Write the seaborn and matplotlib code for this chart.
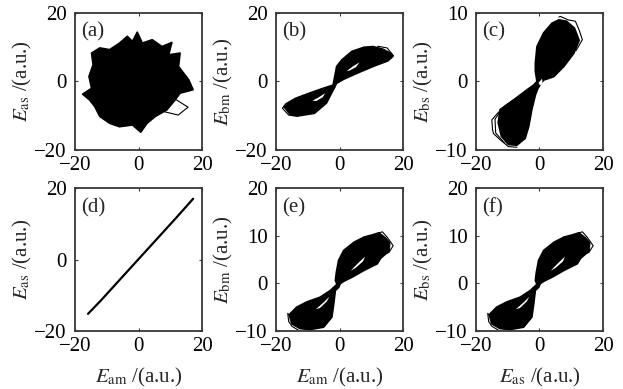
import matplotlib
matplotlib.use("Agg")
import matplotlib.pyplot as plt
import seaborn as sns

# ---------------- data ----------------
# (a) E_as vs E_am : dense blob (outline of the filled region)
a_blob_x = [-0.4, 1.2, 4.3, 7.4, 10.5, 9.5, 13.1, 12.6, 15.8, 17.2, 13.1, 11.5, 8.9, 5.3,
            2.7, 0.7, -1.9, -6.0, -9.1, -12.2, -13.8, -15.4, -17.6, -14.8, -15.6, -14.3,
            -14.8, -12.2, -9.1, -6.0, -3.5, -1.9]
a_blob_y = [14.4, 11.2, 12.2, 10.2, 11.4, 7.8, 8.3, 4.4, 0.5, -2.4, -3.4, -5.4, -8.3, -10.2,
            -12.2, -14.8, -12.7, -13.2, -12.2, -10.2, -7.3, -5.4, -3.7, -2.0, 1.5, 4.9,
            8.3, 9.8, 9.3, 11.2, 13.2, 11.7]
a_loop_x = [9.4, 15.6, 12.5, 5.8]
a_loop_y = [-3.9, -7.5, -9.8, -8.3]

# (b) E_bm vs E_am
b_fill_x = [-2.0, -1.5, -0.9, 0.7, 3.9, 7.7, 10.5, 13.5, 16.2, 16.8, 15.2, 10.9, 5.5, 1.2,
            -1.0, -1.4, -2.5, -4.1, -7.9, -12.7, -15.4, -17.5, -16.8, -13.8, -9.5, -5.2, -2.5]
b_fill_y = [-1.0, 1.5, 4.4, 6.3, 8.8, 10.0, 10.2, 9.5, 8.2, 7.3, 6.0, 4.5, 2.4, 0.6,
            -0.6, -1.5, -3.4, -6.3, -9.3, -10.0, -9.8, -7.3, -6.5, -4.9, -3.4, -2.0, -1.2]
b_hole1_x = [2.2, 4.2, 6.3, 5.2, 3.2]
b_hole1_y = [3.0, 4.4, 5.6, 4.2, 3.2]
b_hole2_x = [-8.5, -6.5, -4.5, -5.3, -7.3]
b_hole2_y = [-5.6, -4.6, -3.4, -4.6, -5.7]
b_loop1_x = [-17.5, -18.0, -16.0, -13.0]
b_loop1_y = [-7.3, -7.8, -9.8, -10.2]
b_loop2_x = [12.0, 15.0, 17.0]
b_loop2_y = [10.3, 9.8, 7.5]

# (c) E_bs vs E_as
c_fill_x = [-0.8, -1.3, -1.3, -0.8, 1.3, 3.9, 6.1, 8.5, 11.0, 12.5, 10.8, 7.7, 4.5, 1.3, 0.5,
            -0.5, -1.3, -2.4, -3.4, -4.5, -7.1, -9.8, -12.0, -13.0, -12.4, -8.2, -3.9, -1.8]
c_fill_y = [0.0, 1.5, 2.7, 5.1, 7.1, 8.5, 9.0, 8.8, 7.8, 6.0, 4.1, 2.2, 0.7, 0.2, -0.3,
            -1.0, -2.0, -4.1, -6.6, -8.3, -9.3, -9.2, -8.0, -6.0, -4.1, -2.7, -1.2, -0.5]
c_hole_x = [-0.3, 0.8, 1.0, 0.2]
c_hole_y = [-0.2, 0.4, -0.3, -0.6]
c_loop1_x = [6.1, 6.6, 9.0, 11.3, 12.5, 13.5, 11.5]
c_loop1_y = [9.4, 9.5, 9.0, 8.8, 7.5, 6.1, 4.5]
c_loop2_x = [-8.2, -11.0, -13.5, -15.0, -14.8, -14.5, -12.4, -9.8, -7.1]
c_loop2_y = [-2.7, -3.6, -4.8, -5.6, -7.0, -7.6, -8.5, -9.5, -9.6]
c_loop3_x = [-12.4, -14.0, -13.8, -11.0]
c_loop3_y = [-4.4, -5.5, -7.5, -9.0]

# (d) E_as vs E_am : synchronized (diagonal)
d_x = [-15.9, -12.0, -8.0, -4.0, 0.0, 4.0, 8.0, 12.0, 17.2]
d_y = [-15.2, -11.6, -7.7, -3.8, 0.1, 4.0, 7.9, 11.8, 17.0]

# (e) E_bm vs E_am and (f) E_bs vs E_as
e_fill_x = [-0.8, -1.3, -1.0, -0.3, 1.3, 4.5, 7.7, 10.5, 12.4, 14.5, 15.8, 15.6, 12.9, 11.9,
            7.7, 4.0, 1.3, 0.2, -0.2, -1.3, -1.8, -2.4, -5.0, -9.2, -12.4, -15.0, -15.8,
            -15.6, -13.5, -10.3, -6.1, -2.9]
e_fill_y = [-0.2, 0.6, 2.3, 4.8, 6.9, 8.6, 9.7, 10.2, 10.6, 9.5, 8.5, 6.8, 5.2, 4.1,
            2.7, 1.3, 0.4, -0.1, -0.8, -1.5, -4.3, -7.1, -9.2, -9.7, -9.5, -8.5, -6.7,
            -6.4, -5.0, -3.9, -2.9, -1.5]
e_hole1_x = [3.5, 5.5, 8.0, 7.4, 5.0]
e_hole1_y = [2.6, 4.0, 5.6, 4.6, 3.2]
e_hole2_x = [-7.4, -5.0, -3.2, -4.0, -6.2]
e_hole2_y = [-5.4, -4.0, -2.8, -3.8, -5.2]
e_loop1_x = [12.4, 13.5, 15.0, 16.9, 15.6, 14.0]
e_loop1_y = [10.6, 10.8, 9.7, 7.9, 6.5, 6.0]
e_loop2_x = [-15.8, -16.3, -16.0, -15.0, -13.0]
e_loop2_y = [-6.7, -6.3, -8.0, -9.0, -9.8]

panel_tags = ["(a)", "(b)", "(c)", "(d)", "(e)", "(f)"]
y_names = ["as", "bm", "bs", "as", "bm", "bs"]
x_names = ["am", "am", "as"]
y_limits = [(-20, 20), (-20, 20), (-10, 10), (-20, 20), (-10, 20), (-10, 20)]
y_ticks = [[-20, 0, 20], [-20, 0, 20], [-10, 0, 10], [-20, 0, 20],
           [-10, 0, 10, 20], [-10, 0, 10, 20]]
x_ticks = [-20, 0, 20]

# ---------------- style ----------------
sns.set_theme(style="ticks")
plt.rcParams["font.family"] = ["Liberation Serif", "DejaVu Serif"]
plt.rcParams["mathtext.fontset"] = "stix"
plt.rcParams.update({
    "xtick.direction": "in", "ytick.direction": "in",
    "xtick.top": True, "ytick.right": True,
    "xtick.major.size": 2.5, "ytick.major.size": 2.5,
    "xtick.major.width": 0.8, "ytick.major.width": 0.8,
    "axes.edgecolor": "#383838", "axes.linewidth": 1.3,
    "xtick.color": "#383838", "ytick.color": "#383838",
    "xtick.labelcolor": "black", "ytick.labelcolor": "black",
})

fig = plt.figure(figsize=(6.23, 3.89), dpi=100)
lefts = [0.1204, 0.4430, 0.7640]
width = 0.2039
rows = [(0.6144, 0.3522), (0.1491, 0.3676)]
axes = []
for r, (b, h) in enumerate(rows):
    for c in range(3):
        axes.append(fig.add_axes([lefts[c], b, width, h]))

K = "black"


def line(ax, xs, ys, lw=0.8):
    sns.lineplot(x=xs, y=ys, sort=False, estimator=None, color=K, lw=lw, ax=ax)


def blob(ax, xs, ys, holes=()):
    ax.fill(xs, ys, color=K, lw=1.2, ec=K, joinstyle="round")
    for hx, hy in holes:
        ax.fill(hx, hy, color="white", lw=0)


# (a)
blob(axes[0], a_blob_x, a_blob_y)
line(axes[0], a_loop_x + a_loop_x[:1], a_loop_y + a_loop_y[:1])
# (b)
blob(axes[1], b_fill_x, b_fill_y, [(b_hole1_x, b_hole1_y), (b_hole2_x, b_hole2_y)])
line(axes[1], b_loop1_x, b_loop1_y)
line(axes[1], b_loop2_x, b_loop2_y)
# (c)
blob(axes[2], c_fill_x, c_fill_y, [(c_hole_x, c_hole_y)])
line(axes[2], c_loop1_x, c_loop1_y)
line(axes[2], c_loop2_x, c_loop2_y)
line(axes[2], c_loop3_x, c_loop3_y)
# (d)
line(axes[3], d_x, d_y, lw=1.6)
# (e), (f)
for ax in (axes[4], axes[5]):
    blob(ax, e_fill_x, e_fill_y, [(e_hole1_x, e_hole1_y), (e_hole2_x, e_hole2_y)])
    line(ax, e_loop1_x, e_loop1_y)
    line(ax, e_loop2_x, e_loop2_y)

FS = 15
for i, ax in enumerate(axes):
    ax.set_xlim(-20, 20)
    ax.set_ylim(*y_limits[i])
    ax.set_xticks(x_ticks)
    ax.set_yticks(y_ticks[i])
    ax.set_xticklabels([f"{t}".replace("-", "\u2212") for t in x_ticks])
    ax.set_yticklabels([f"{t}".replace("-", "\u2212") for t in y_ticks[i]])
    ax.tick_params(axis="x", labelsize=FS, pad=4.5)
    ax.tick_params(axis="y", labelsize=FS, pad=6)
    ax.set_ylabel(r"$E_{\mathrm{%s}}$ /(a.u.)" % y_names[i], fontsize=FS, labelpad=0)
    if i >= 3:
        ax.set_xlabel(r"$E_{\mathrm{%s}}$ /(a.u.)" % x_names[i - 3], fontsize=FS, labelpad=7)
    else:
        ax.set_xlabel("")
    ax.text(0.05, 0.93, panel_tags[i], transform=ax.transAxes, va="top", ha="left",
            fontsize=FS)
    for s in ax.spines.values():
        s.set_visible(True)

fig.savefig("out.png", dpi=100)
